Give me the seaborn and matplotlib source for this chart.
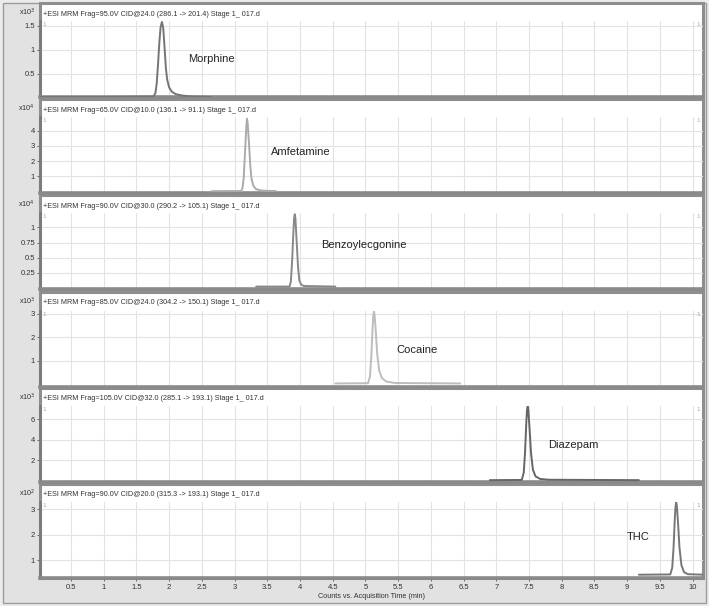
import matplotlib
matplotlib.use("Agg")
import matplotlib.pyplot as plt
from matplotlib.patches import Rectangle
import numpy as np
import pandas as pd
import seaborn as sns

sns.set_theme(style="white")
plt.rcParams['font.family'] = ['Liberation Sans', 'DejaVu Sans']

# ---------------- data ----------------
compounds = ["Morphine", "Amfetamine", "Benzoylecgonine", "Cocaine", "Diazepam", "THC"]
headers = [
    "+ESI MRM Frag=95.0V CID@24.0 (286.1 -> 201.4) Stage 1_ 017.d",
    "+ESI MRM Frag=65.0V CID@10.0 (136.1 -> 91.1) Stage 1_ 017.d",
    "+ESI MRM Frag=90.0V CID@30.0 (290.2 -> 105.1) Stage 1_ 017.d",
    "+ESI MRM Frag=85.0V CID@24.0 (304.2 -> 150.1) Stage 1_ 017.d",
    "+ESI MRM Frag=105.0V CID@32.0 (285.1 -> 193.1) Stage 1_ 017.d",
    "+ESI MRM Frag=90.0V CID@20.0 (315.3 -> 193.1) Stage 1_ 017.d",
]
scale_exp = ["3", "4", "4", "3", "3", "2"]

t_morph = [0.02, 1.00, 1.76, 1.79, 1.81, 1.83, 1.85, 1.87, 1.89, 1.91, 1.93, 1.95, 1.97,
           2.00, 2.04, 2.10, 2.20, 2.35, 2.64]
y_morph = [0.02, 0.02, 0.03, 0.10, 0.30, 0.70, 1.15, 1.48, 1.58, 1.45, 1.05, 0.62, 0.38,
           0.22, 0.13, 0.08, 0.05, 0.03, 0.02]

t_amf = [2.65, 3.10, 3.12, 3.14, 3.16, 3.18, 3.19, 3.20, 3.22, 3.24, 3.26, 3.29, 3.33, 3.40,
         3.50, 3.63]
y_amf = [0.02, 0.03, 0.20, 0.90, 2.60, 4.30, 4.78, 4.50, 3.20, 1.70, 0.80, 0.35, 0.15, 0.07,
         0.04, 0.03]

t_bz = [3.33, 3.84, 3.86, 3.88, 3.90, 3.91, 3.92, 3.93, 3.95, 3.97, 3.99, 4.02, 4.06, 4.54]
y_bz = [0.02, 0.02, 0.10, 0.45, 0.95, 1.15, 1.22, 1.15, 0.75, 0.35, 0.12, 0.05, 0.03, 0.02]

t_coc = [4.54, 5.04, 5.07, 5.09, 5.11, 5.12, 5.13, 5.14, 5.16, 5.18, 5.21, 5.25, 5.32, 5.45,
         6.45]
y_coc = [0.05, 0.06, 0.35, 1.20, 2.40, 2.90, 3.08, 2.95, 2.20, 1.30, 0.60, 0.28, 0.13, 0.07,
         0.05]

t_dz = [6.90, 7.39, 7.42, 7.44, 7.46, 7.47, 7.48, 7.49, 7.51, 7.53, 7.56, 7.60, 7.67, 7.80,
        9.18]
y_dz = [0.08, 0.10, 0.80, 2.80, 5.80, 6.90, 7.25, 6.90, 5.00, 2.80, 1.10, 0.45, 0.20, 0.12,
        0.08]

t_thc = [9.18, 9.66, 9.69, 9.71, 9.73, 9.74, 9.75, 9.76, 9.78, 9.80, 9.83, 9.87, 9.93, 10.17]
y_thc = [0.42, 0.43, 0.70, 1.50, 2.70, 3.10, 3.28, 3.15, 2.40, 1.50, 0.80, 0.52, 0.44, 0.42]

times = [t_morph, t_amf, t_bz, t_coc, t_dz, t_thc]
counts = [y_morph, y_amf, y_bz, y_coc, y_dz, y_thc]

ylims = [(0.02, 1.60), (-0.10, 4.90), (-0.02, 1.24), (-0.10, 3.11), (-0.10, 7.30), (0.29, 3.29)]
yticks = [[0.5, 1, 1.5], [1, 2, 3, 4], [0.25, 0.5, 0.75, 1], [1, 2, 3], [2, 4, 6], [1, 2, 3]]
yticklabels = [["0.5", "1", "1.5"], ["1", "2", "3", "4"], ["0.25", "0.5", "0.75", "1"],
               ["1", "2", "3"], ["2", "4", "6"], ["1", "2", "3"]]
xticks = [0.5, 1, 1.5, 2, 2.5, 3, 3.5, 4, 4.5, 5, 5.5, 6, 6.5, 7, 7.5, 8, 8.5, 9, 9.5, 10]
xticklabels = ["0.5", "1", "1.5", "2", "2.5", "3", "3.5", "4", "4.5", "5",
               "5.5", "6", "6.5", "7", "7.5", "8", "8.5", "9", "9.5", "10"]
label_pos = [(2.29, 0.50), (3.55, 0.54), (4.32, 0.58), (5.48, 0.49), (7.79, 0.49), (9.00, 0.54)]
colors = ["#757575", "#ababab", "#888888", "#bdbdbd", "#666666", "#777777"]

# ---------------- layout (pixels) ----------------
W, H = 709, 606
fig = plt.figure(figsize=(W / 100, H / 100), dpi=100)
fig.patch.set_facecolor("#ececec")
fig.patches.append(Rectangle((3 / W, 3 / H), 703 / W, 600 / H, transform=fig.transFigure,
                             facecolor="#e2e2e2", edgecolor="#9c9c9c", lw=1.0, zorder=-3))

px_left, px_right = 40, 703
panel_tops = [3, 99, 195, 292, 388, 484]
ax_tops = [21, 117, 213, 311, 406, 502]
ax_bots = [97, 193, 289, 387, 482, 578]


def fig_rect(x0, y0, x1, y1):
    return [x0 / W, 1 - y1 / H, (x1 - x0) / W, (y1 - y0) / H]


for i in range(6):
    # white panel with gray frame
    r = fig_rect(px_left, panel_tops[i], px_right, ax_bots[i])
    fig.patches.append(Rectangle((r[0], r[1]), r[2], r[3], transform=fig.transFigure,
                                 facecolor="white", edgecolor="#8e8e8e", lw=2.2, zorder=-2))
    ycen = 1 - (panel_tops[i] + 11) / H
    fig.text(43 / W, ycen, headers[i], fontsize=5.2, color="#333333", va="center", ha="left")
    fig.text(35 / W, ycen + 0.002, "x10$^{%s}$" % scale_exp[i], fontsize=5.2, color="#333333",
             va="center", ha="right")

    ax = fig.add_axes(fig_rect(px_left, ax_tops[i], px_right, ax_bots[i]))
    ax.set_facecolor("none")
    df = pd.DataFrame({"time": times[i], "counts": counts[i]})
    sns.lineplot(data=df, x="time", y="counts", ax=ax, color=colors[i], lw=1.4, zorder=3)
    ax.set_xlim(0.026, 10.16)
    ax.set_ylim(*ylims[i])
    ax.set_xticks(xticks)
    ax.set_yticks(yticks[i])
    ax.set_yticklabels(yticklabels[i])
    ax.grid(True, color="#e3e3e3", lw=0.8)
    ax.set_axisbelow(True)
    ax.set_xlabel("")
    ax.set_ylabel("")
    for s in ["top", "right"]:
        ax.spines[s].set_visible(False)
    ax.spines["left"].set_color("#7a7a7a")
    ax.spines["left"].set_linewidth(2.0)
    ax.spines["bottom"].set_color("#8a8a8a")
    ax.spines["bottom"].set_linewidth(2.6)
    ax.tick_params(axis="y", length=2.5, width=0.6, color="#555555", labelsize=5.5,
                   labelcolor="#333333", pad=1, left=True)
    if i < 5:
        ax.tick_params(axis="x", length=0, labelbottom=False)
    else:
        ax.set_xticklabels(xticklabels)
        ax.tick_params(axis="x", length=2.5, width=0.6, color="#555555", labelsize=5.5,
                       labelcolor="#333333", pad=2, bottom=True)
    ax.text(0.004, 0.985, "1", transform=ax.transAxes, fontsize=4.5, color="#a8a8a8",
            va="top", ha="left")
    ax.text(0.99, 0.985, "1", transform=ax.transAxes, fontsize=4.5, color="#a8a8a8",
            va="top", ha="left")
    lx, ly = label_pos[i]
    ax.text(lx, ly, compounds[i], transform=ax.get_xaxis_transform(), fontsize=8,
            color="#222222", va="center", ha="left")

fig.text(372 / W, 1 - 597 / H, "Counts vs. Acquisition Time (min)", fontsize=5.2,
         color="#333333", ha="center", va="center")

fig.savefig("out.png", dpi=100, facecolor=fig.get_facecolor())
